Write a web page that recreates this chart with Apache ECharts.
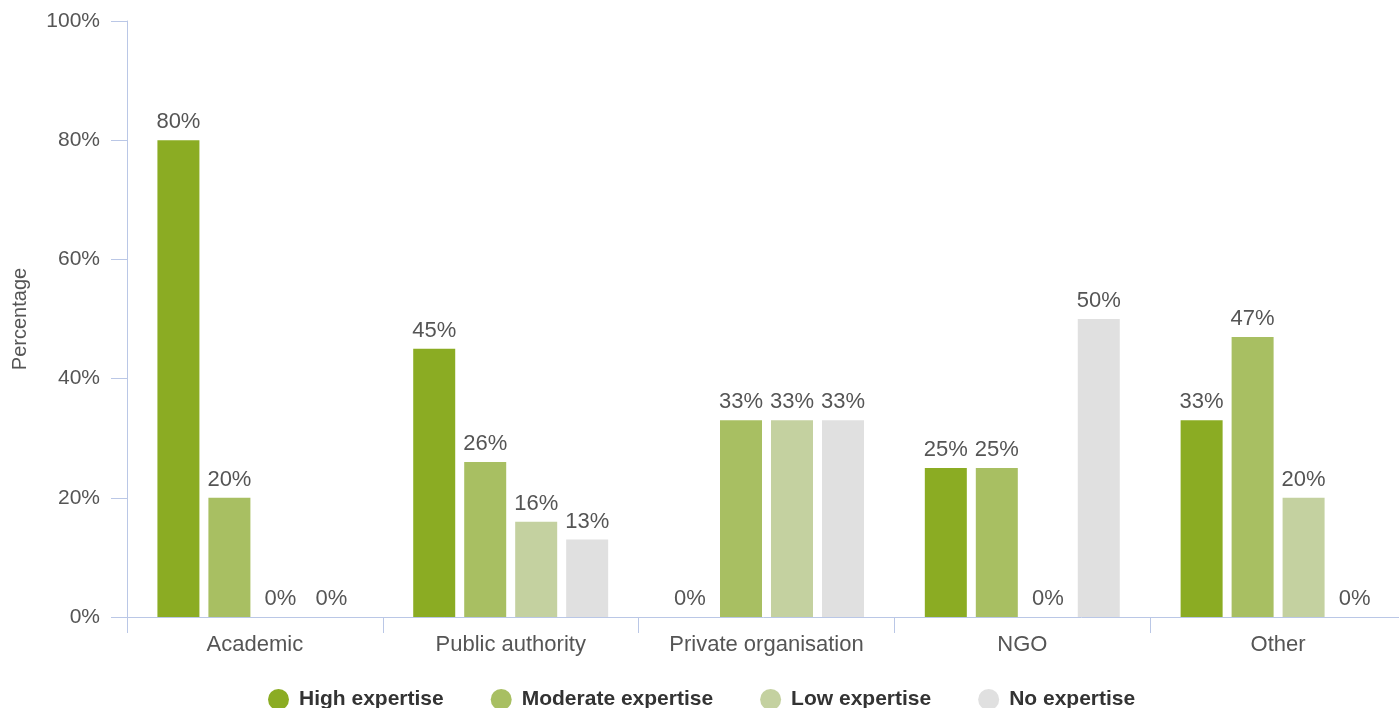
<!DOCTYPE html>
<html>
<head>
<meta charset="utf-8">
<title>Expertise by organisation type</title>
<script src="https://cdn.jsdelivr.net/npm/echarts@6/dist/echarts.min.js"></script>
<style>
  html, body { margin: 0; padding: 0; background: #fff; }
  #chart { width: 1399px; height: 708px; }
</style>
</head>
<body>
<div id="chart"></div>
<script>
// Organisation types along the x axis
const categories = ['Academic', 'Public authority', 'Private organisation', 'NGO', 'Other'];

// Share of respondents (%) per expertise level
const highExpertise     = [80, 45, 0, 25, 33];
const moderateExpertise = [20, 26, 33, 25, 47];
const lowExpertise      = [0, 16, 33, 0, 20];
const noExpertise       = [0, 13, 33, 50, 0];

const seriesNames = ['High expertise', 'Moderate expertise', 'Low expertise', 'No expertise'];
const seriesColors = ['#8BAC23', '#A8BF62', '#C4D1A0', '#E0E0E0'];
const seriesValues = [highExpertise, moderateExpertise, lowExpertise, noExpertise];

const FONT = '"Liberation Sans", Arial, sans-serif';
const AXIS_COLOR = '#BAC7E6';
const TEXT_COLOR = '#555';

const chart = echarts.init(document.getElementById('chart'), null, { renderer: 'canvas' });

chart.setOption({
  animation: false,
  backgroundColor: '#fff',
  textStyle: { fontFamily: FONT },
  grid: { left: 127, right: -7, top: 21, bottom: 91, containLabel: false, outerBoundsMode: 'none' },
  legend: {
    data: seriesNames,
    left: 263,
    top: 684,
    icon: 'circle',
    itemWidth: 21,
    itemHeight: 21,
    itemGap: 47,
    textStyle: {
      fontFamily: FONT,
      fontSize: 21,
      fontWeight: 'bold',
      color: '#333',
      padding: [0, 0, 0, 5]
    }
  },
  xAxis: {
    type: 'category',
    data: categories,
    boundaryGap: true,
    axisLine: { show: true, lineStyle: { color: AXIS_COLOR, width: 1 } },
    axisTick: { show: true, length: 16, alignWithLabel: false, lineStyle: { color: AXIS_COLOR } },
    axisLabel: { color: TEXT_COLOR, fontSize: 22, fontFamily: FONT, margin: 17 },
    splitLine: { show: false }
  },
  yAxis: {
    type: 'value',
    min: 0,
    max: 100,
    interval: 20,
    name: 'Percentage',
    nameLocation: 'middle',
    nameGap: 97,
    nameTextStyle: { color: TEXT_COLOR, fontSize: 20, fontFamily: FONT },
    axisLine: { show: true, lineStyle: { color: AXIS_COLOR, width: 1 } },
    axisTick: { show: true, length: 16, lineStyle: { color: AXIS_COLOR } },
    axisLabel: { color: TEXT_COLOR, fontSize: 21, fontFamily: FONT, margin: 27, formatter: '{value}%' },
    splitLine: { show: false }
  },
  series: seriesValues.map((values, i) => ({
    name: seriesNames[i],
    type: 'bar',
    data: values,
    barWidth: 42,
    barGap: '21.4%',
    itemStyle: { color: seriesColors[i] },
    label: {
      show: true,
      position: 'top',
      distance: 7,
      color: TEXT_COLOR,
      fontSize: 22,
      fontFamily: FONT,
      formatter: '{c}%'
    }
  }))
});
</script>
</body>
</html>
